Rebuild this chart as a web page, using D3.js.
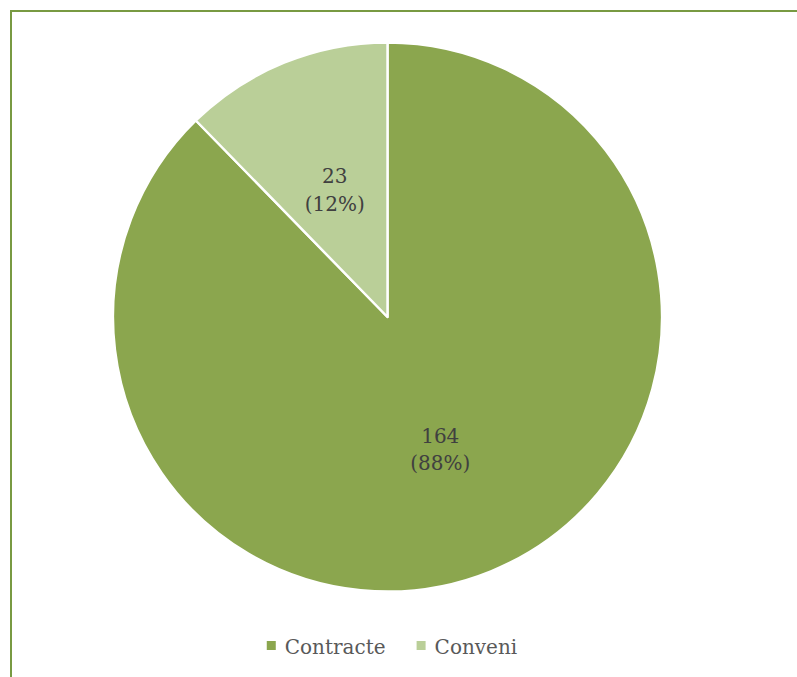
<!DOCTYPE html>
<html>
<head>
<meta charset="utf-8">
<script src="https://cdn.jsdelivr.net/npm/d3@7"></script>
<style>
  html, body { margin: 0; padding: 0; background: #fff; }
  svg { display: block; }
</style>
</head>
<body>
<div id="chart"></div>
<script>
// Agreements by type
const categories = ["Contracte", "Conveni"];
const values = [164, 23];
const colors = ["#8BA64E", "#BACF98"];

const width = 797, height = 677;
const cx = 387.5, cy = 317, radius = 274.5;

const svg = d3.select("#chart").append("svg")
  .attr("width", width)
  .attr("height", height);

// chart frame (left and top edges visible)
svg.append("rect")
  .attr("x", 11).attr("y", 11)
  .attr("width", 820).attr("height", 700)
  .attr("fill", "none")
  .attr("stroke", "#789A42")
  .attr("stroke-width", 1.6)
  .attr("shape-rendering", "crispEdges");

const total = d3.sum(values);
const data = categories.map((c, i) => ({ name: c, value: values[i], color: colors[i] }));

const pie = d3.pie().sort(null).value(d => d.value);
const arcs = pie(data);

const arc = d3.arc().innerRadius(0).outerRadius(radius);
const labelArc = d3.arc().innerRadius(radius * 0.51).outerRadius(radius * 0.51);

const g = svg.append("g").attr("transform", `translate(${cx},${cy})`);

g.selectAll("path.slice")
  .data(arcs)
  .join("path")
  .attr("class", "slice")
  .attr("d", arc)
  .attr("fill", d => d.data.color)
  .attr("stroke", "#fff")
  .attr("stroke-width", 2.4)
  .attr("stroke-linejoin", "round");

const fontFamily = "'DejaVu Serif', 'Liberation Serif', serif";

const labels = g.selectAll("text.lbl")
  .data(arcs)
  .join("text")
  .attr("class", "lbl")
  .attr("transform", d => `translate(${labelArc.centroid(d)})`)
  .attr("text-anchor", "middle")
  .attr("font-family", fontFamily)
  .attr("font-size", 20)
  .attr("fill", "#404040");

labels.append("tspan")
  .attr("x", 0).attr("dy", "-0.2em")
  .text(d => d.data.value);
labels.append("tspan")
  .attr("x", 0).attr("dy", "1.36em")
  .text(d => `(${Math.round(d.data.value / total * 100)}%)`);

// legend
const legend = svg.append("g");
const items = legend.selectAll("g.item")
  .data(data)
  .join("g")
  .attr("class", "item");

items.append("rect")
  .attr("width", 9).attr("height", 9)
  .attr("y", -13)
  .attr("fill", d => d.color);

items.append("text")
  .attr("x", 18)
  .attr("font-family", fontFamily)
  .attr("font-size", 20)
  .attr("fill", "#595959")
  .text(d => d.name);

let xoff = 0;
items.each(function () {
  const w = this.getBBox().width;
  d3.select(this).attr("transform", `translate(${xoff},0)`);
  xoff += w + 31;
});
const legendWidth = xoff - 31;
legend.attr("transform", `translate(${392 - legendWidth / 2},654)`);
</script>
</body>
</html>
